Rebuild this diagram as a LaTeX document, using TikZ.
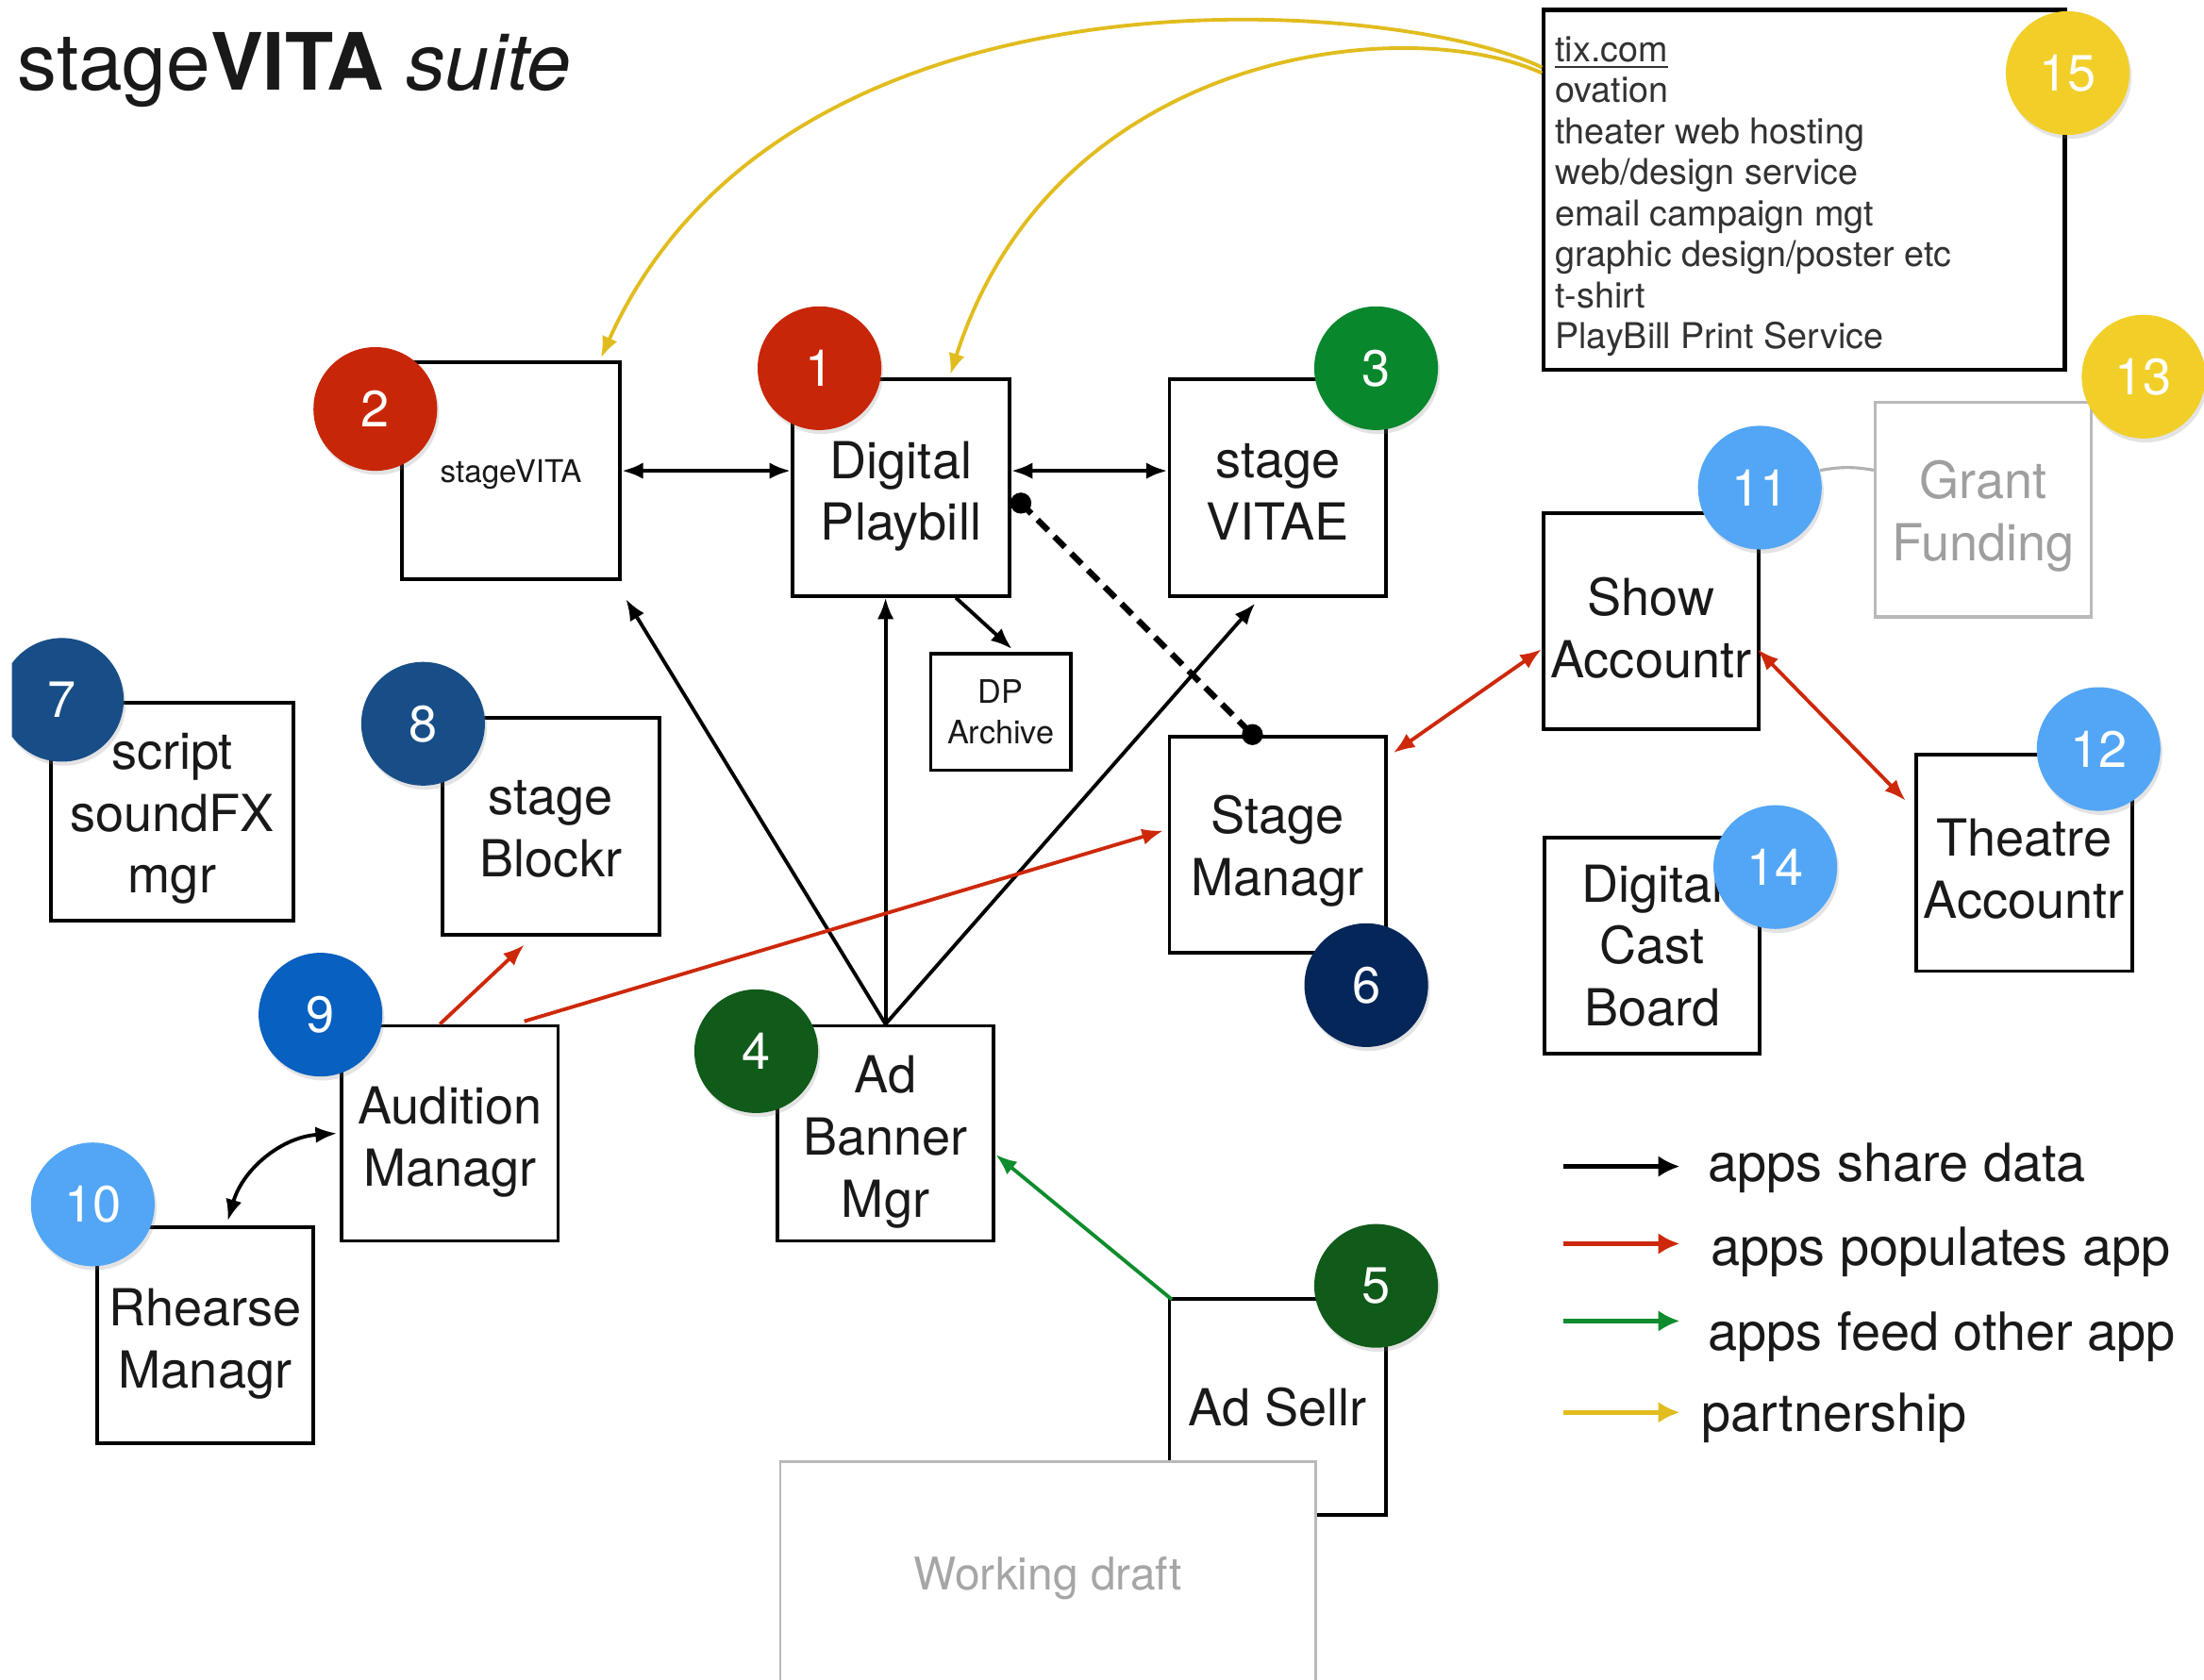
\documentclass[tikz,border=0pt]{standalone}
\usepackage{fontspec}
\setmainfont{TeX Gyre Heros}
\usetikzlibrary{arrows.meta,calc,shadows}
\definecolor{cred}{RGB}{200,38,8}
\definecolor{cgreen}{RGB}{8,135,45}
\definecolor{cdgreen}{RGB}{16,90,26}
\definecolor{cnavy}{RGB}{5,38,88}
\definecolor{cblue}{RGB}{24,78,135}
\definecolor{cmblue}{RGB}{8,96,192}
\definecolor{clblue}{RGB}{82,166,245}
\definecolor{cyellow}{RGB}{242,207,40}
\definecolor{ayellow}{RGB}{225,188,30}
\definecolor{ared}{RGB}{205,40,10}
\definecolor{agreen}{RGB}{15,140,45}
\definecolor{txt}{RGB}{25,25,25}
\definecolor{listtxt}{RGB}{50,50,50}
\newcommand\liftto[1]{\rule{0pt}{#1}}
\begin{document}
\begin{tikzpicture}[x=0.015cm,y=-0.015cm,
  box/.style={draw=black, line width=1.1pt, fill=white, inner sep=0pt, align=center,
    font=\fontsize{15.5}{18.8}\selectfont, text=txt},
  bx/.style 2 args={minimum width=#1*0.015cm, minimum height=#2*0.015cm},
  badge/.style={circle, minimum size=1.32cm, inner sep=0pt, text=white,
    font=\fontsize{15.5}{18}\selectfont,
    drop shadow={opacity=0.22, shadow xshift=0.6pt, shadow yshift=-1.2pt}},
  tip/.tip={Latex[length=6.5pt,width=5pt]},
  arr/.style={line width=1.1pt, -tip},
  darr/.style={line width=1.1pt, tip-tip},
  rarr/.style={arr, draw=ared, color=ared},
  rdarr/.style={darr, draw=ared, color=ared},
  garr/.style={arr, draw=agreen, color=agreen},
  yarr/.style={arr, draw=ayellow, color=ayellow},
  legarr/.style={line width=1.3pt, -{Latex[length=6.5pt,width=6.5pt]}},
  legtext/.style={anchor=west, inner sep=0pt, font=\fontsize{16}{19}\selectfont, text=txt},
  dashline/.style={line width=1.8pt, dash pattern=on 4.5pt off 2.7pt},
  listline/.style={anchor=base west, inner sep=0pt, font=\fontsize{10.8}{12}\selectfont, text=listtxt}
]
\useasboundingbox (0,0) rectangle (1568,1195);
\fill[white] (0,0) rectangle (1568,1195);

% title
\node[anchor=base west, inner sep=0pt, font=\fontsize{24}{28}\selectfont, text=txt] (title) at (12,64) {stage\textbf{VITA} \textit{suite}};

% boxes
\node[box, bx={155}{154}, font=\fontsize{9.5}{11}\selectfont] (s2) at (363.5,335) {\liftto{9.4pt}stageVITA};
\node[box, bx={154}{154}] (s1) at (641,347) {\liftto{16.6pt}Digital\\Playbill};
\node[box, bx={154}{154}] (s3) at (909,347) {\liftto{13pt}stage\\VITAE};
\node[box, bx={100}{83}, line width=1pt, font=\fontsize{9.8}{12.3}\selectfont] (dp) at (712,506.5) {DP\\Archive};
\node[box, bx={173}{155}] (s7) at (122.5,577.5) {\liftto{15.4pt}script\\soundFX\\mgr};
\node[box, bx={154}{154}] (s8) at (392,588) {\liftto{12.1pt}stage\\Blockr};
\node[box, bx={154}{153}] (s9) at (320,806.5) {\liftto{16.6pt}Audition\\Managr};
\node[box, bx={154}{154}] (s10) at (146,950) {\liftto{16.6pt}Rhearse\\Managr};
\node[box, bx={154}{153}] (s4) at (630,806.5) {\liftto{16.6pt}Ad\\Banner\\Mgr};
\node[box, bx={154}{154}] (sm) at (909,601) {\liftto{15.5pt}Stage\\Managr};
\node[box, bx={153}{154}] (s11) at (1174.5,442) {\liftto{15.7pt}Show\\Accountr};
\node[box, bx={154}{153}, draw=gray!55, line width=0.9pt, text=gray!75] (gf) at (1411,362.5) {\liftto{15.5pt}Grant\\Funding};
\node[box, bx={154}{154}] (s12) at (1440,614) {\liftto{14.9pt}Theatre\\Accountr};
\node[box, bx={153}{154}] (s14) at (1175.5,673) {Digital\\Cast\\Board};
\node[box, bx={154}{154}] (s5) at (909,1001) {Ad Sellr};
\node[box, bx={381}{160}, draw=gray!55, line width=0.7pt, text=gray!70, font=\fontsize{13.7}{16}\selectfont] (wd) at (745.5,1120) {\liftto{12.5pt}Working draft};
\node[box, bx={371}{256}, line width=1.3pt] (tl) at (1283.5,135) {};

% list text
\foreach \t [count=\i] in {\underline{tix.com}, ovation, theater web hosting, web/design service, email campaign mgt, graphic design/poster etc, t-shirt, PlayBill Print Service}
  \node[listline] (li\i) at (1106,{14.86+29.14*\i}) {\t};

% black connectors
\draw[darr, line width=1.3pt] (s2.east) -- (s2.east -| s1.west);
\draw[darr, line width=1.3pt] (s1.east |- s2.east) -- (s3.west |- s2.east);
\coordinate (d1) at ($(s1.east)+(7,11)$);
\coordinate (d2) at ($(sm.north)+(-18,0)$);
\draw[dashline] (d1) -- (d2);
\fill (d1) circle (3.2pt);
\fill (d2) circle (3.2pt);
\draw[arr] ($(s1.south)+(39,0)$) -- ($(dp.north)+(8,-2)$);
\draw[arr] (s4.north) -- ($(s2.south east)+(3,13)$);
\draw[arr] (s4.north) -- (s4.north |- s1.south);
\draw[arr] (s4.north) -- ($(s3.south)+(-16,4)$);
\draw[darr] ($(s10.north)+(16,-3)$) to[bend left=35] ($(s9.west)+(-2,0)$);

% red connectors
\draw[rarr] ($(s9.north)+(-7,0)$) -- ($(s8.south)+(-19,6)$);
\draw[rarr] ($(s9.north)+(53,-2)$) -- ($(sm.west)+(-3,-10)$);
\draw[rdarr] ($(sm.north east)+(4,13)$) -- ($(s11.west)+(0,20)$);
\draw[rdarr] ($(s11.east)+(-2,20)$) -- ($(s12.north west)+(-6,34)$);

% green connector
\draw[garr] ($(s5.north west)+(3,2)$) -- ($(s4.east)+(0,15)$);

% yellow connectors
\coordinate (y1) at (1097,48);
\coordinate (y2) at (1097,52);
\draw[yarr] (y1) .. controls (1000,0) and (560,-40) .. ($(s2.north)+(64,-2)$);
\draw[yarr] (y2) .. controls (1000,8) and (750,35) .. ($(s1.north)+(35,-2)$);

% badges
\node[badge, fill=cred] (c1) at (583,262) {1};
\node[badge, fill=cred] (c2) at (267,291) {2};
\node[badge, fill=cgreen] (c3) at (979,262) {3};
\node[badge, fill=cdgreen] (c4) at (538,748) {4};
\node[badge, fill=cdgreen] (c5) at (979,915) {5};
\node[badge, fill=cnavy] (c6) at (972,701) {6};
\begin{scope}
  \clip (8.5,0) rectangle (1568,1195);
  \node[badge, fill=cblue] (c7) at (44,498) {7};
\end{scope}
\node[badge, fill=cblue] (c8) at (301,515) {8};
\node[badge, fill=cmblue] (c9) at (228,722) {9};
\node[badge, fill=clblue] (c10) at (66,857) {10};
\node[badge, fill=clblue] (c11) at (1252,347) {11};
\node[badge, fill=clblue] (c12) at (1493,533) {12};
\node[badge, fill=cyellow] (c13) at (1525,268) {13};
\node[badge, fill=clblue] (c14) at (1263,617) {14};
\node[badge, fill=cyellow] (c15) at (1471,52) {15};

% grey link
\draw[gray!60, line width=0.9pt] (c11.16) to[bend left=10] ($(gf.west)+(0,-28)$);

% legend
\coordinate (la1) at (1112,830); \coordinate (lb1) at (1195,830);
\coordinate (la2) at (1112,885); \coordinate (lb2) at (1195,885);
\coordinate (la3) at (1112,940); \coordinate (lb3) at (1195,940);
\coordinate (la4) at (1112,1005); \coordinate (lb4) at (1195,1005);
\draw[legarr, black] (la1) -- (lb1);
\draw[legarr, ared] (la2) -- (lb2);
\draw[legarr, agreen] (la3) -- (lb3);
\draw[legarr, ayellow] (la4) -- (lb4);
\node[legtext] (lt1) at (1215,831) {apps share data};
\node[legtext] (lt2) at (1217,891) {apps populates app};
\node[legtext] (lt3) at (1215,951) {apps feed other app};
\node[legtext] (lt4) at (1210,1009) {partnership};
\end{tikzpicture}
\end{document}
